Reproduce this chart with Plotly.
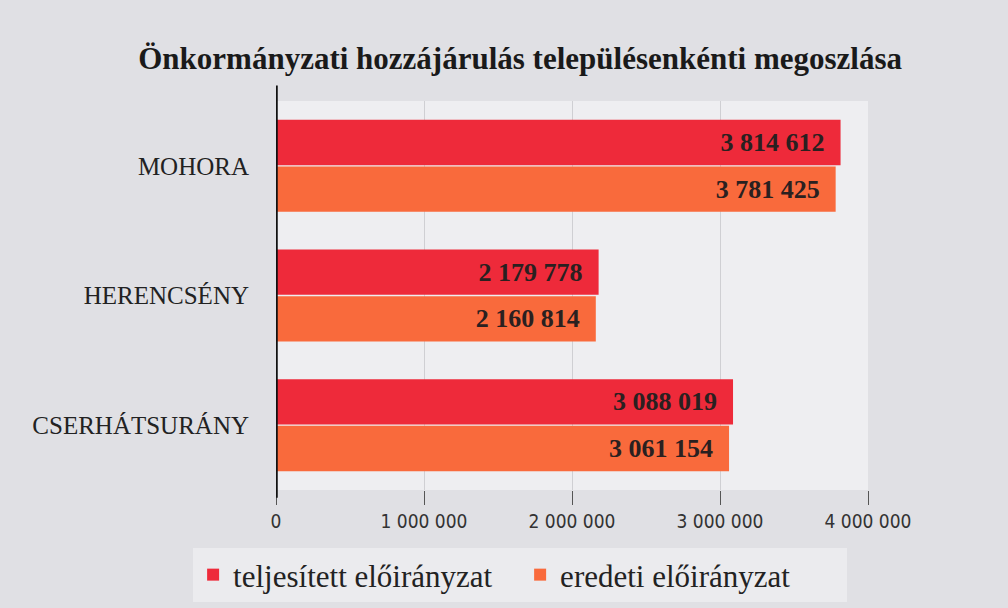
import plotly.graph_objects as go

categories = ["MOHORA", "HERENCSÉNY", "CSERHÁTSURÁNY"]
teljesitett = [3814612, 2179778, 3088019]
eredeti = [3781425, 2160814, 3061154]
series_names = ["teljesített előirányzat", "eredeti előirányzat"]
tick_vals = [0, 1000000, 2000000, 3000000, 4000000]
tick_text = ["0", "1 000 000", "2 000 000", "3 000 000", "4 000 000"]

def fmt(v):
    return f"{v:,}".replace(",", " ") + "\u2002"

serif = "Liberation Serif"
label_font = dict(family=serif, size=26, color="#2a2020", weight="bold")

fig = go.Figure()
fig.add_trace(go.Bar(
    y=categories, x=teljesitett, orientation="h", name=series_names[0],
    marker=dict(color="#EE2A3A", line=dict(width=0)),
    text=[fmt(v) for v in teljesitett], textposition="inside", insidetextanchor="end",
    textfont=label_font,
))
fig.add_trace(go.Bar(
    y=categories, x=eredeti, orientation="h", name=series_names[1],
    marker=dict(color="#F96A3C", line=dict(width=0)),
    text=[fmt(v) for v in eredeti], textposition="inside", insidetextanchor="end",
    textfont=label_font,
))

fig.add_shape(type="line", xref="x", yref="paper", x0=0, x1=0, y0=-0.02, y1=1.04,
              line=dict(color="#111", width=3.5))

fig.update_layout(
    width=1008, height=608,
    margin=dict(l=276, r=140, t=101, b=118, autoexpand=False),
    paper_bgcolor="#E0E0E4",
    plot_bgcolor="#EEEEF1",
    barmode="group", bargap=0.28, bargroupgap=0.03,
    title=dict(text="<b>Önkormányzati hozzájárulás településenkénti megoszlása</b>",
               x=0.516, xref="container", xanchor="center", y=0.905, yanchor="middle",
               font=dict(family=serif, size=31, color="#1a1a1a")),
    showlegend=True,
    legend=dict(orientation="h", x=-0.14, xref="paper", xanchor="left",
                y=-0.2185, yref="paper", yanchor="middle",
                bgcolor="#EBEBEE", font=dict(family=serif, size=31, color="#222"),
                itemwidth=30, entrywidth=282, entrywidthmode="pixels", tracegroupgap=0),
    uniformtext=dict(minsize=10, mode="show"),
)
fig.update_xaxes(
    range=[0, 4000000], tickvals=tick_vals, ticktext=tick_text,
    showgrid=True, gridcolor="#CFCFD3", gridwidth=1,
    ticks="outside", ticklen=14, tickcolor="#555", tickwidth=1,
    tickfont=dict(family="Liberation Sans Narrow, DejaVu Sans Condensed, Roboto Condensed, Liberation Sans", size=19, color="#333"),
    showline=False, zeroline=False,
)
fig.update_yaxes(
    autorange="reversed", showline=False,
    tickfont=dict(family=serif, size=25, color="#222"),
    ticks="", ticklabelstandoff=26, showgrid=False,
)
fig.write_html("out.html", config={"displayModeBar": False},
               post_script="document.body.style.margin='0';document.body.style.padding='0';")
